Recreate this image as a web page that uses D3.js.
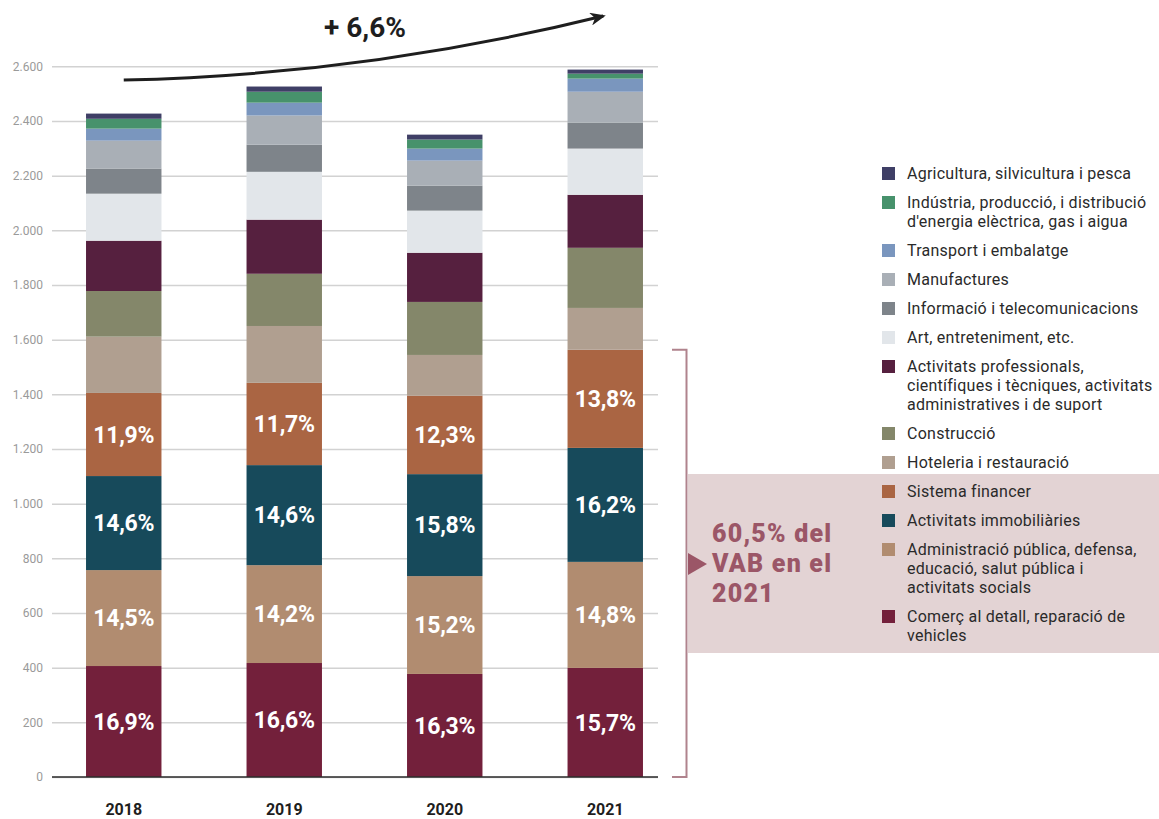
<!DOCTYPE html>
<html>
<head>
<meta charset="utf-8">
<script src="https://cdn.jsdelivr.net/npm/d3@7"></script>
<style>
  body { margin: 0; background: #fff; }
  svg { display: block; }
</style>
</head>
<body>
<svg width="1159" height="819"></svg>
<script>
//  data
var years = ["2018", "2019", "2020", "2021"];
var yTicks = [0, 200, 400, 600, 800, 1000, 1200, 1400, 1600, 1800, 2000, 2200, 2400, 2600];

// series, bottom of the stack first
var comerc     = [406, 417, 377, 399];
var admin      = [351, 358, 358, 388];
var immob      = [344, 366, 373, 417];
var financer   = [304, 301, 287, 359];
var hoteleria  = [206, 208, 149, 153];
var construc   = [167, 191, 194, 220];
var professio  = [184, 198, 180, 194];
var art        = [172, 175, 154, 169];
var informacio = [92, 99, 91, 95];
var manufact   = [102, 107, 92, 113];
var transport  = [44, 47, 44, 48];
var industria  = [36, 40, 33, 18];
var agricult   = [19, 19, 18, 15];

var keys = ["comerc", "admin", "immob", "financer", "hoteleria", "construc", "professio",
            "art", "informacio", "manufact", "transport", "industria", "agricult"];
var seriesValues = [comerc, admin, immob, financer, hoteleria, construc, professio,
                    art, informacio, manufact, transport, industria, agricult];
var names = [
  "Comerç al detall, reparació de\nvehicles",
  "Administració pública, defensa,\neducació, salut pública i\nactivitats socials",
  "Activitats immobiliàries",
  "Sistema financer",
  "Hoteleria i restauració",
  "Construcció",
  "Activitats professionals,\ncientífiques i tècniques, activitats\nadministratives i de suport",
  "Art, entreteniment, etc.",
  "Informació i telecomunicacions",
  "Manufactures",
  "Transport i embalatge",
  "Indústria, producció, i distribució\nd'energia elèctrica, gas i aigua",
  "Agricultura, silvicultura i pesca"
];
var colors = ["#73203b", "#b18c70", "#174a5b", "#aa6543", "#b09f90", "#84876a", "#56203f",
              "#e2e6ea", "#7e848a", "#a9afb6", "#7a96be", "#47926c", "#3f3f66"];

// percentage labels shown inside the four largest sectors
var comercPct   = ["16,9%", "16,6%", "16,3%", "15,7%"];
var adminPct    = ["14,5%", "14,2%", "15,2%", "14,8%"];
var immobPct    = ["14,6%", "14,6%", "15,8%", "16,2%"];
var financerPct = ["11,9%", "11,7%", "12,3%", "13,8%"];
var pctByKey = { comerc: comercPct, admin: adminPct, immob: immobPct, financer: financerPct };

var growthText = "+ 6,6%";
var calloutLines = ["60,5% del", "VAB en el", "2021"];

//  build table for d3.stack
var table = years.map(function(y, i) {
  var row = { year: y };
  keys.forEach(function(k, j) { row[k] = seriesValues[j][i]; });
  return row;
});

var svg = d3.select("svg");
var plotLeft = 52, plotRight = 658;

var x = d3.scaleBand()
  .domain(years)
  .range([52, 677])
  .paddingInner(0.53)
  .paddingOuter(0.212);

var y = d3.scaleLinear()
  .domain([0, 2600])
  .range([777, 66.3]);

var color = d3.scaleOrdinal().domain(keys).range(colors);

var locale = d3.formatLocale({ decimal: ",", thousands: ".", grouping: [3], currency: ["", "€"] });
var fmt = locale.format(",d");

//  grid + y axis
var yAxis = svg.append("g")
  .attr("transform", "translate(" + plotLeft + ",0)")
  .call(d3.axisLeft(y)
    .tickValues(yTicks)
    .tickSize(-(plotRight - plotLeft))
    .tickPadding(9)
    .tickFormat(fmt));
yAxis.select(".domain").remove();
yAxis.selectAll("line").attr("stroke", "#d2d2d2").attr("stroke-width", 1.5);
yAxis.selectAll("text")
  .attr("fill", "#9a9a9a")
  .style("font-family", "Roboto, 'Noto Sans', sans-serif")
  .style("font-size", "12px");

//  stacked bars
var stack = d3.stack().keys(keys);
var layers = stack(table);

var layer = svg.append("g").selectAll("g")
  .data(layers)
  .enter().append("g")
    .attr("fill", function(d) { return color(d.key); });

layer.selectAll("rect")
  .data(function(d) { return d; })
  .enter().append("rect")
    .attr("x", function(d) { return x(d.data.year); })
    .attr("y", function(d) { return y(d[1]); })
    .attr("width", x.bandwidth())
    .attr("height", function(d) { return y(d[0]) - y(d[1]); });

//  percentage labels
layers.forEach(function(l) {
  var pct = pctByKey[l.key];
  if (!pct) return;
  svg.append("g").selectAll("text")
    .data(l)
    .enter().append("text")
      .attr("x", function(d) { return x(d.data.year) + x.bandwidth() / 2; })
      .attr("y", function(d) { return (y(d[0]) + y(d[1])) / 2; })
      .attr("dy", "0.36em")
      .attr("text-anchor", "middle")
      .attr("fill", "#fff")
      .style("font-family", "Roboto, sans-serif")
      .style("font-weight", "700")
      .style("font-size", "23px")
      .style("letter-spacing", "-0.3px")
      .text(function(d, i) { return pct[i]; });
});

//  baseline
svg.append("line")
  .attr("x1", plotLeft).attr("x2", plotRight)
  .attr("y1", y(0)).attr("y2", y(0))
  .attr("stroke", "#2b2b2b")
  .attr("stroke-width", 1.5);

//  x axis labels
var xAxis = svg.append("g")
  .attr("transform", "translate(0," + y(0) + ")")
  .call(d3.axisBottom(x).tickSize(0).tickPadding(27));
xAxis.select(".domain").remove();
xAxis.selectAll("text")
  .attr("fill", "#1e1e1e")
  .style("font-family", "Roboto, sans-serif")
  .style("font-weight", "700")
  .style("font-size", "16px");

//  growth arrow
svg.append("defs").append("marker")
  .attr("id", "arrowhead")
  .attr("viewBox", "0 0 12 10")
  .attr("refX", 10)
  .attr("refY", 5)
  .attr("markerWidth", 16)
  .attr("markerHeight", 13)
  .attr("markerUnits", "userSpaceOnUse")
  .attr("orient", "auto")
  .append("path")
    .attr("d", "M0,0 L12,5 L0,10 L3.5,5 Z")
    .attr("fill", "#1e1e1e");

var x0 = x("2018") + x.bandwidth() / 2;
var x1 = x("2021") + x.bandwidth() / 2;
svg.append("path")
  .attr("d", "M" + x0 + "," + 80 + " Q" + 364 + "," + 75 + " " + (x1 - 2) + "," + 16)
  .attr("fill", "none")
  .attr("stroke", "#1e1e1e")
  .attr("stroke-width", 3)
  .attr("marker-end", "url(#arrowhead)");

svg.append("text")
  .attr("x", 365)
  .attr("y", 37)
  .attr("text-anchor", "middle")
  .attr("fill", "#1e1e1e")
  .style("font-family", "Roboto, sans-serif")
  .style("font-weight", "700")
  .style("font-size", "28px")
  .text(growthText);

//  callout box + bracket
var bracketX = 686.5;
var bracketTop = y(comerc[3] + admin[3] + immob[3] + financer[3]);
svg.append("rect")
  .attr("x", 688)
  .attr("y", 474)
  .attr("width", 1159 - 688)
  .attr("height", 179)
  .attr("fill", "#e3d3d4");

svg.append("path")
  .attr("d", "M672," + bracketTop + " H" + bracketX + " V" + y(0) + " H672")
  .attr("fill", "none")
  .attr("stroke", "#b0838d")
  .attr("stroke-width", 2);

svg.append("path")
  .attr("d", "M688,553 L707,564 L688,575 Z")
  .attr("fill", "#9b5667");

svg.append("g").selectAll("text")
  .data(calloutLines)
  .enter().append("text")
    .attr("x", 712)
    .attr("y", function(d, i) { return 542 + i * 30; })
    .attr("fill", "#9b5667")
    .style("font-family", "Roboto, sans-serif")
    .style("font-weight", "900")
    .style("font-size", "25px")
    .style("letter-spacing", "1.2px")
    .text(function(d) { return d; });

//  legend (top-down, reverse of the stack), one text per line
var legend = svg.append("g").attr("transform", "translate(882,0)");
var ly = 173.5;
keys.slice().reverse().forEach(function(k) {
  var idx = keys.indexOf(k);
  var lines = names[idx].split("\n");
  legend.append("rect")
    .attr("x", 0)
    .attr("y", ly - 6.5)
    .attr("width", 13)
    .attr("height", 13)
    .attr("fill", color(k));
  lines.forEach(function(line, i) {
    legend.append("text")
      .attr("x", 25)
      .attr("y", ly + i * 19)
      .attr("dy", "0.35em")
      .attr("fill", "#2a2a2a")
      .style("font-family", "Roboto, sans-serif")
      .style("font-size", "16px")
      .style("letter-spacing", "0.25px")
      .text(line);
  });
  ly += 29 + 19 * (lines.length - 1);
});
</script>
</body>
</html>
